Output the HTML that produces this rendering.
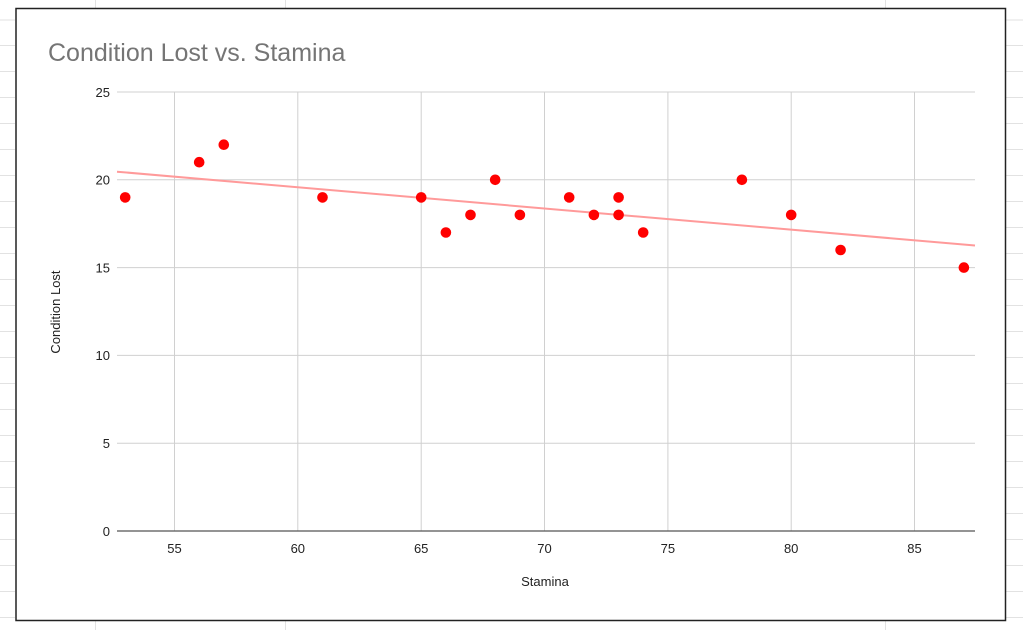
<!DOCTYPE html>
<html><head><meta charset="utf-8"><style>
html,body{margin:0;padding:0;background:#fff;}
svg{display:block;font-family:"Liberation Sans",Arial,sans-serif;}
</style></head><body>
<svg width="1023" height="630" viewBox="0 0 1023 630" xmlns="http://www.w3.org/2000/svg">
<g stroke="#e2e2e2" stroke-width="1">
<line x1="0" y1="20" x2="15" y2="20"/><line x1="0" y1="45.5" x2="15" y2="45.5"/><line x1="0" y1="71.5" x2="15" y2="71.5"/><line x1="0" y1="97.5" x2="15" y2="97.5"/>
<line x1="0" y1="123.5" x2="15" y2="123.5"/><line x1="0" y1="149.5" x2="15" y2="149.5"/><line x1="0" y1="175.5" x2="15" y2="175.5"/><line x1="0" y1="201.5" x2="15" y2="201.5"/>
<line x1="0" y1="227.5" x2="15" y2="227.5"/><line x1="0" y1="253.5" x2="15" y2="253.5"/><line x1="0" y1="279.5" x2="15" y2="279.5"/><line x1="0" y1="305.5" x2="15" y2="305.5"/>
<line x1="0" y1="331.5" x2="15" y2="331.5"/><line x1="0" y1="357.5" x2="15" y2="357.5"/><line x1="0" y1="383.5" x2="15" y2="383.5"/><line x1="0" y1="409.5" x2="15" y2="409.5"/>
<line x1="0" y1="435.5" x2="15" y2="435.5"/><line x1="0" y1="461.5" x2="15" y2="461.5"/><line x1="0" y1="487.5" x2="15" y2="487.5"/><line x1="0" y1="513.5" x2="15" y2="513.5"/>
<line x1="0" y1="539.5" x2="15" y2="539.5"/><line x1="0" y1="565.5" x2="15" y2="565.5"/><line x1="0" y1="591.5" x2="15" y2="591.5"/><line x1="0" y1="617.5" x2="15" y2="617.5"/>
<line x1="1006" y1="20" x2="1023" y2="20"/><line x1="1006" y1="45.5" x2="1023" y2="45.5"/><line x1="1006" y1="71.5" x2="1023" y2="71.5"/><line x1="1006" y1="97.5" x2="1023" y2="97.5"/>
<line x1="1006" y1="123.5" x2="1023" y2="123.5"/><line x1="1006" y1="149.5" x2="1023" y2="149.5"/><line x1="1006" y1="175.5" x2="1023" y2="175.5"/><line x1="1006" y1="201.5" x2="1023" y2="201.5"/>
<line x1="1006" y1="227.5" x2="1023" y2="227.5"/><line x1="1006" y1="253.5" x2="1023" y2="253.5"/><line x1="1006" y1="279.5" x2="1023" y2="279.5"/><line x1="1006" y1="305.5" x2="1023" y2="305.5"/>
<line x1="1006" y1="331.5" x2="1023" y2="331.5"/><line x1="1006" y1="357.5" x2="1023" y2="357.5"/><line x1="1006" y1="383.5" x2="1023" y2="383.5"/><line x1="1006" y1="409.5" x2="1023" y2="409.5"/>
<line x1="1006" y1="435.5" x2="1023" y2="435.5"/><line x1="1006" y1="461.5" x2="1023" y2="461.5"/><line x1="1006" y1="487.5" x2="1023" y2="487.5"/><line x1="1006" y1="513.5" x2="1023" y2="513.5"/>
<line x1="1006" y1="539.5" x2="1023" y2="539.5"/><line x1="1006" y1="565.5" x2="1023" y2="565.5"/><line x1="1006" y1="591.5" x2="1023" y2="591.5"/><line x1="1006" y1="617.5" x2="1023" y2="617.5"/>
<line x1="95.5" y1="0" x2="95.5" y2="8"/><line x1="95.5" y1="621" x2="95.5" y2="630"/>
<line x1="285.5" y1="0" x2="285.5" y2="8"/><line x1="285.5" y1="621" x2="285.5" y2="630"/>
<line x1="885.5" y1="0" x2="885.5" y2="8"/><line x1="885.5" y1="621" x2="885.5" y2="630"/>
</g>
<rect x="16" y="8.5" width="989.5" height="612" fill="#fff" stroke="#222" stroke-width="1.5"/>
<text x="48" y="61" font-size="25" fill="#757575">Condition Lost vs. Stamina</text>
<g stroke="#d0d0d0" stroke-width="1">
<line x1="117" y1="92" x2="975" y2="92"/><line x1="117" y1="179.8" x2="975" y2="179.8"/>
<line x1="117" y1="267.6" x2="975" y2="267.6"/><line x1="117" y1="355.4" x2="975" y2="355.4"/>
<line x1="117" y1="443.2" x2="975" y2="443.2"/>
<line x1="174.5" y1="92" x2="174.5" y2="531"/><line x1="297.8" y1="92" x2="297.8" y2="531"/>
<line x1="421.2" y1="92" x2="421.2" y2="531"/><line x1="544.5" y1="92" x2="544.5" y2="531"/>
<line x1="667.9" y1="92" x2="667.9" y2="531"/><line x1="791.2" y1="92" x2="791.2" y2="531"/>
<line x1="914.5" y1="92" x2="914.5" y2="531"/>
</g>
<line x1="117" y1="531" x2="975" y2="531" stroke="#555" stroke-width="1.2"/>
<g font-size="13" fill="#222" text-anchor="end">
<text x="110" y="97">25</text><text x="110" y="184.5">20</text><text x="110" y="272.5">15</text>
<text x="110" y="360">10</text><text x="110" y="448">5</text><text x="110" y="536">0</text>
</g>
<g font-size="13" fill="#222" text-anchor="middle">
<text x="174.5" y="553">55</text><text x="297.8" y="553">60</text><text x="421.2" y="553">65</text>
<text x="544.5" y="553">70</text><text x="667.9" y="553">75</text><text x="791.2" y="553">80</text>
<text x="914.5" y="553">85</text>
<text x="545" y="586">Stamina</text>
<text transform="translate(60,312) rotate(-90)">Condition Lost</text>
</g>
<line x1="117" y1="171.7" x2="975" y2="245.5" stroke="#ff9a9a" stroke-width="2"/>
<g fill="#ff0000">
<circle cx="125.2" cy="197.4" r="5.3"/><circle cx="199.2" cy="162.2" r="5.3"/><circle cx="223.8" cy="144.7" r="5.3"/>
<circle cx="322.5" cy="197.4" r="5.3"/><circle cx="421.2" cy="197.4" r="5.3"/><circle cx="445.9" cy="232.5" r="5.3"/>
<circle cx="470.5" cy="214.9" r="5.3"/><circle cx="495.2" cy="179.8" r="5.3"/><circle cx="519.9" cy="214.9" r="5.3"/>
<circle cx="569.2" cy="197.4" r="5.3"/><circle cx="593.9" cy="214.9" r="5.3"/><circle cx="618.6" cy="197.4" r="5.3"/>
<circle cx="618.6" cy="214.9" r="5.3"/><circle cx="643.2" cy="232.5" r="5.3"/><circle cx="741.9" cy="179.8" r="5.3"/>
<circle cx="791.2" cy="214.9" r="5.3"/><circle cx="840.6" cy="250.0" r="5.3"/><circle cx="963.9" cy="267.6" r="5.3"/>
</g>
</svg>
</body></html>
